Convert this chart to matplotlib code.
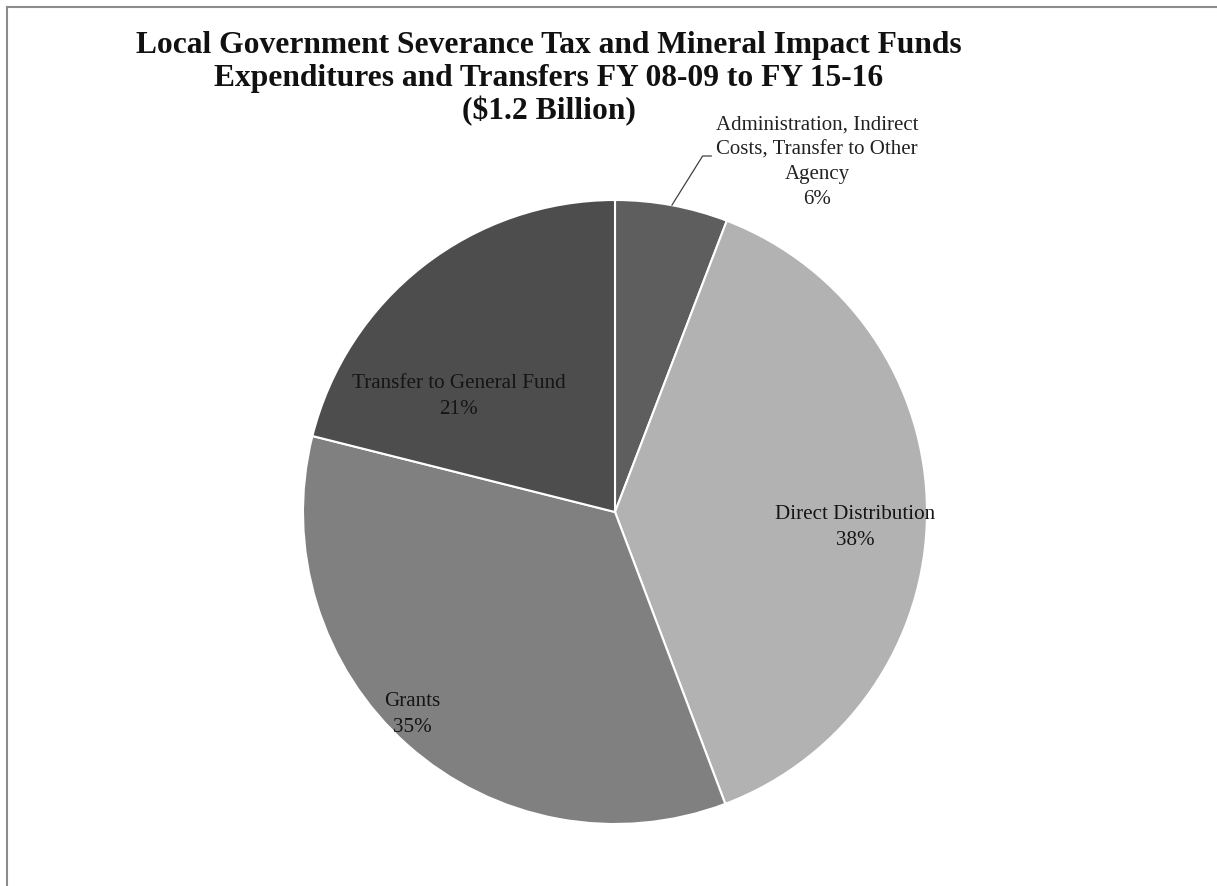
import numpy as np
import matplotlib.pyplot as plt
from matplotlib.lines import Line2D

# values in $ millions (total about $1.2 billion)
categories = ["Administration, Indirect\nCosts, Transfer to Other\nAgency",
              "Direct Distribution", "Grants", "Transfer to General Fund"]
values = [70, 461, 416, 253]
colors = ["#5e5e5e", "#b2b2b2", "#808080", "#4d4d4d"]
title_lines = ["Local Government Severance Tax and Mineral Impact Funds",
               "Expenditures and Transfers FY 08-09 to FY 15-16",
               "($1.2 Billion)"]

# label positions (pie radius units)
label_pos = [(0.647, 1.12), (0.77, -0.05), (-0.65, -0.65), (-0.50, 0.37)]

plt.rcParams['font.family'] = ['Liberation Serif', 'DejaVu Serif']

W, H = 1217, 886
fig = plt.figure(figsize=(W / 100, H / 100), dpi=100)

# chart border (only left and top visible)
fig.add_artist(Line2D([6.5 / W, 6.5 / W], [0, 1 - 7 / H], transform=fig.transFigure,
                      color="#8c8c8c", lw=1.5))
fig.add_artist(Line2D([6.5 / W, 1], [1 - 7 / H, 1 - 7 / H], transform=fig.transFigure,
                      color="#8c8c8c", lw=1.5))

cx, cy, r = 615, 512, 312
ax = fig.add_axes([(cx - r) / W, (H - cy - r) / H, 2 * r / W, 2 * r / H])
wedges, _ = ax.pie(values, colors=colors, startangle=90, counterclock=False,
                   wedgeprops=dict(edgecolor="white", linewidth=1.5))
ax.set_xlim(-1, 1)
ax.set_ylim(-1, 1)
ax.set_aspect("equal")
ax.axis("off")

total = sum(values)
for i, (w, name, v, pos) in enumerate(zip(wedges, categories, values, label_pos)):
    pct = f"{round(100 * v / total):.0f}%"
    txt = name + "\n" + pct
    if i == 0:
        # outside label with leader line
        mid = np.deg2rad((w.theta1 + w.theta2) / 2)
        ax.annotate(txt, xy=(np.cos(mid), np.sin(mid)), xytext=pos,
                    ha="center", va="center", fontsize=15, color="#222222",
                    linespacing=1.42,
                    arrowprops=dict(arrowstyle="-", color="#404040", lw=0.9,
                                    shrinkA=1, shrinkB=0,
                                    connectionstyle="angle,angleA=0,angleB=58,rad=0",
                                    relpos=(0.0, 0.57)))
    else:
        ax.text(pos[0], pos[1], txt, ha="center", va="center", fontsize=15.2,
                color="#151515", linespacing=1.5)

for line, yb in zip(title_lines, [53, 86, 119]):
    fig.text(549 / W, 1 - yb / H, line, ha="center", va="baseline", fontsize=22.7,
             fontweight="bold", color="#111111")

fig.savefig("out.png", dpi=100)
